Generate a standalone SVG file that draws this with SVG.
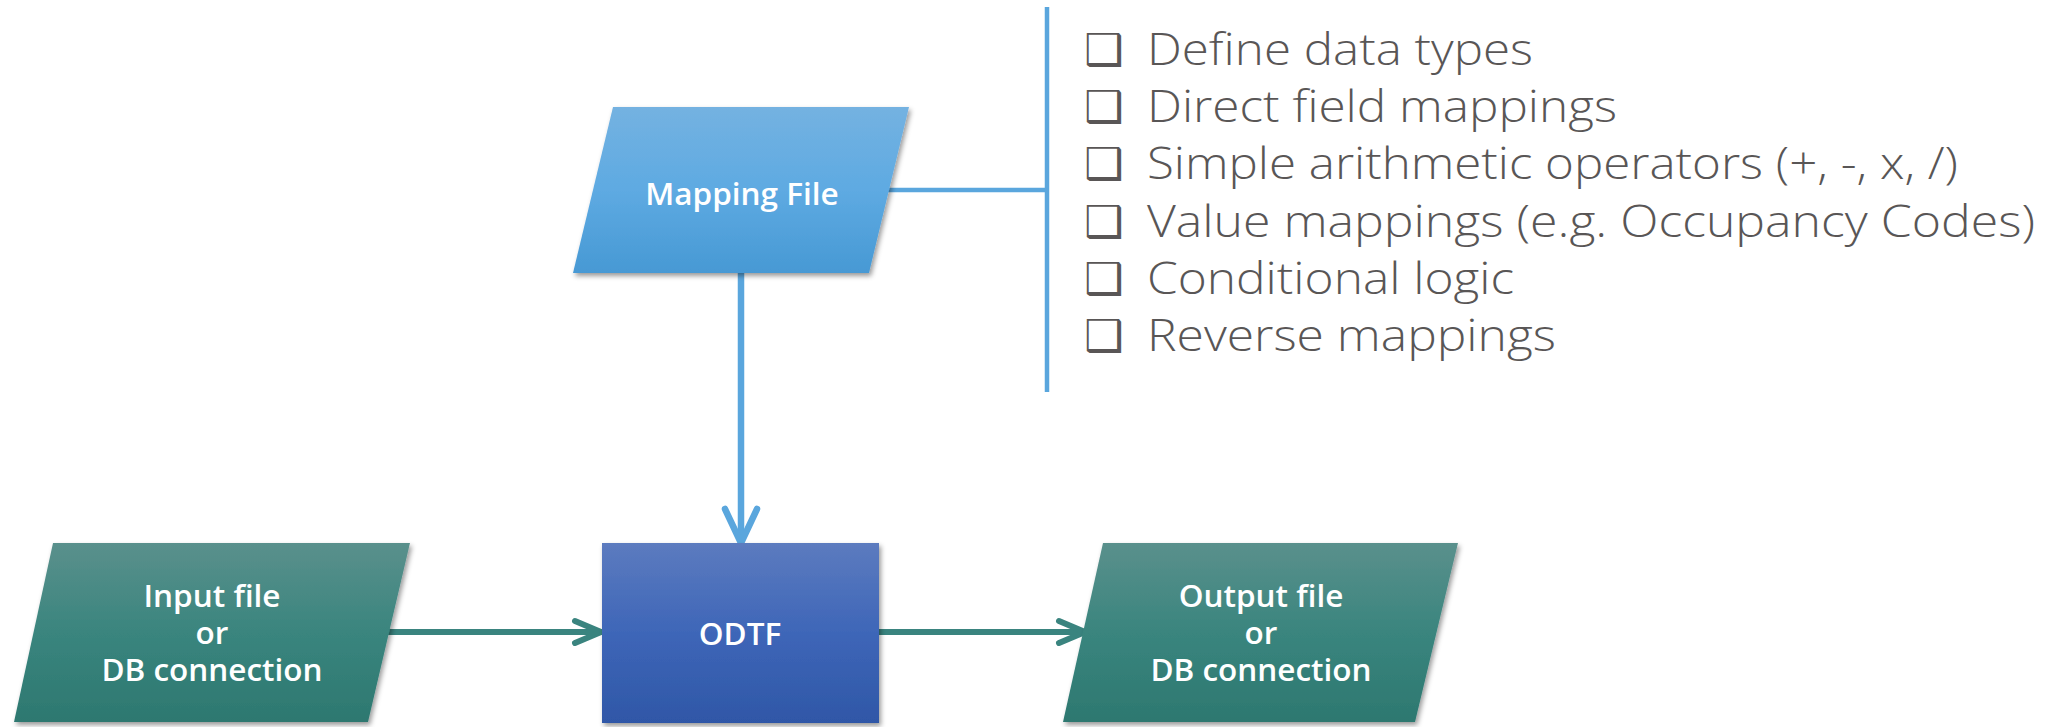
<svg xmlns="http://www.w3.org/2000/svg" width="2064" height="727" viewBox="0 0 2064 727">
<style>
.lbl{font-family:"Open Sans","Liberation Sans",sans-serif;font-weight:600;font-size:31.5px;fill:#ffffff;text-anchor:middle}
.item{font-family:"Open Sans","Liberation Sans",sans-serif;font-weight:300;font-size:45px;fill:#595656}
.box{font-family:"DejaVu Sans",sans-serif;font-weight:bold;font-size:44px;fill:#595656}
.blue{stroke:#5aa6dd;fill:none}
.teal{stroke:#3a847f;fill:none}
</style>
<defs>
<linearGradient id="gMap" x1="0" y1="0" x2="0" y2="1"><stop offset="0" stop-color="#74b2e1"/><stop offset="0.5" stop-color="#5eaae2"/><stop offset="1" stop-color="#4799d4"/></linearGradient>
<linearGradient id="gOdtf" x1="0" y1="0" x2="0" y2="1"><stop offset="0" stop-color="#5c7bbf"/><stop offset="0.5" stop-color="#3e66b8"/><stop offset="1" stop-color="#2f57a7"/></linearGradient>
<linearGradient id="gTeal" x1="0" y1="0" x2="0" y2="1"><stop offset="0" stop-color="#5a908c"/><stop offset="0.5" stop-color="#3a857e"/><stop offset="1" stop-color="#2d7870"/></linearGradient>
<filter id="sh" x="-10%" y="-10%" width="125%" height="130%"><feDropShadow dx="2" dy="3" stdDeviation="2.5" flood-color="#000" flood-opacity="0.4"/></filter>
<marker id="arrBlue" markerUnits="userSpaceOnUse" viewBox="-40 -22 46 44" markerWidth="46" markerHeight="44" refX="-2" refY="0" orient="auto"><path d="M-34,-16 L0,0 L-34,16" fill="none" stroke="#5aa6dd" stroke-width="6.5" stroke-linecap="round" stroke-linejoin="round"/></marker>
<marker id="arrTeal" markerUnits="userSpaceOnUse" viewBox="-32 -16 38 32" markerWidth="38" markerHeight="32" refX="-2" refY="0" orient="auto"><path d="M-26,-11 L0,0 L-26,11" fill="none" stroke="#3a847f" stroke-width="6" stroke-linecap="round" stroke-linejoin="round"/></marker>
</defs>
<rect width="2064" height="727" fill="#ffffff"/>
<g id="connectors">
<line class="blue" x1="888" y1="190" x2="1047" y2="190" stroke-width="4.5"/>
<line class="blue" x1="1047" y1="7" x2="1047" y2="392" stroke-width="4.5"/>
<line class="blue" x1="741" y1="273" x2="741" y2="541" stroke-width="6.5" marker-end="url(#arrBlue)"/>
<line class="teal" x1="388" y1="632" x2="599" y2="632" stroke-width="6" marker-end="url(#arrTeal)"/>
<line class="teal" x1="879" y1="632" x2="1083" y2="632" stroke-width="6" marker-end="url(#arrTeal)"/>
</g>
<g id="mapping-file">
<polygon points="613,107 909,107 869,273 573,273" fill="url(#gMap)" filter="url(#sh)"/>
<text class="lbl" x="742" y="205">Mapping File</text>
</g>
<g id="input">
<polygon points="53,543 410,543 368,722 14,722" fill="url(#gTeal)" filter="url(#sh)"/>
<text class="lbl" x="212" y="607">Input file</text>
<text class="lbl" x="212" y="644">or</text>
<text class="lbl" x="212" y="681">DB connection</text>
</g>
<g id="odtf">
<rect x="602" y="543" width="277" height="180" fill="url(#gOdtf)" filter="url(#sh)"/>
<text class="lbl" x="740" y="645">ODTF</text>
</g>
<g id="output">
<polygon points="1103,543 1458,543 1415,722 1063,722" fill="url(#gTeal)" filter="url(#sh)"/>
<text class="lbl" x="1261" y="607">Output file</text>
<text class="lbl" x="1261" y="644">or</text>
<text class="lbl" x="1261" y="681">DB connection</text>
</g>
<g id="features">
<text class="box" x="1084" y="65">❑</text>
<text class="box" x="1084" y="122">❑</text>
<text class="box" x="1084" y="179">❑</text>
<text class="box" x="1084" y="237">❑</text>
<text class="box" x="1084" y="294">❑</text>
<text class="box" x="1084" y="351">❑</text>
<text class="item" x="1147" y="65" textLength="386" lengthAdjust="spacingAndGlyphs">Define data types</text>
<text class="item" x="1147" y="122" textLength="470" lengthAdjust="spacingAndGlyphs">Direct field mappings</text>
<text class="item" x="1147" y="179" textLength="811" lengthAdjust="spacingAndGlyphs">Simple arithmetic operators (+, -, x, /)</text>
<text class="item" x="1147" y="237" textLength="888" lengthAdjust="spacingAndGlyphs">Value mappings (e.g. Occupancy Codes)</text>
<text class="item" x="1147" y="294" textLength="367" lengthAdjust="spacingAndGlyphs">Conditional logic</text>
<text class="item" x="1147" y="351" textLength="409" lengthAdjust="spacingAndGlyphs">Reverse mappings</text>
</g>
</svg>
